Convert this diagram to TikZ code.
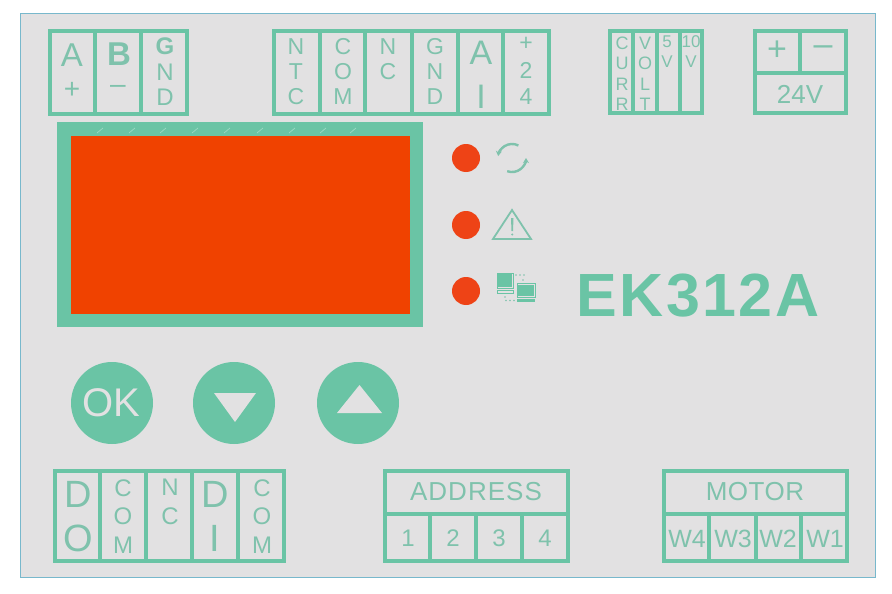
\documentclass[tikz,border=0pt]{standalone}
\usepackage{fontspec}
\setmainfont{Liberation Sans}
\usetikzlibrary{arrows.meta}
\definecolor{gr}{HTML}{6AC4A5}
\definecolor{txt}{HTML}{7FC2AC}
\definecolor{rd}{HTML}{F04200}
\definecolor{led}{HTML}{EE4316}
\definecolor{pan}{HTML}{E2E1E2}
\definecolor{edge}{HTML}{78B8CC}
\newcommand{\fs}[1]{\fontsize{#1}{#1}\selectfont}
\tikzset{
  x=1pt,y=-1pt,
  box/.style={draw=gr,line width=4pt},
  lab/.style={text=txt,inner sep=0pt,anchor=center,font=\fs{#1}},
  lab/.default=22,
  ledlamp/.style={circle,fill=led,minimum size=28pt,inner sep=0pt},
  btn/.style={circle,fill=gr,minimum size=82pt,inner sep=0pt},
  ico/.style={draw=txt,line width=1pt},
}
\newcommand{\cellstack}[6]{%
  \foreach \c [count=\i from 0] in {#6}{%
    \pgfmathsetmacro{\yy}{#3+\i*#4}%
    \node[lab=#5] (#1\i) at (#2,\yy) {\c};
  }%
}
\begin{document}
\begin{tikzpicture}
\useasboundingbox (0,0) rectangle (892,594);
\fill[white] (0,0) rectangle (892,594);
\draw[draw=edge,fill=pan,line width=1pt] (20,14) rectangle (875,577);

% terminal block A B GND
\draw[box] (50,31) rectangle (187,114);
\draw[box] (95,31) -- (95,114) (141,31) -- (141,114);
\node[lab=33] (a1) at (72,55) {A};
\node[lab=28] (a2) at (72,90) {+};
\node[lab=33] (b1) at (119,54) {\textbf{B}};
\node[lab=28] (b2) at (118,89) {–};
\node[lab=24] (g1) at (165,46) {\textbf{G}};
\cellstack{g}{165}{72}{25}{24}{N,D}

% terminal block NTC ... +24
\draw[box] (274,31) rectangle (549,114);
\draw[box] (320,31) -- (320,114) (365,31) -- (365,114) (412,31) -- (412,114) (458,31) -- (458,114) (503,31) -- (503,114);
\cellstack{ntc}{296}{47}{25}{23}{N,T,C}
\cellstack{com}{343}{47}{25}{23}{C,O,M}
\cellstack{nc}{388}{47}{25}{23}{N,C}
\cellstack{gnd}{435}{47}{25}{23}{G,N,D}
\cellstack{ai}{481}{53}{44}{34}{A,I}
\cellstack{pw}{526}{44}{26.5}{23}{+,2,4}

% CURR VOLT 5V 10V
\draw[box] (610,31) rectangle (702,113);
\draw[box] (633,31) -- (633,113) (657,31) -- (657,113) (680,31) -- (680,113);
\cellstack{curr}{622}{43}{20.5}{18}{C,U,R,R}
\cellstack{volt}{645}{43}{20.5}{18}{V,O,L,T}
\cellstack{five}{667}{42}{20}{17}{5,V}
\cellstack{ten}{691}{42}{20}{17}{10,V}

% 24V
\draw[box] (755,31) rectangle (846,113);
\draw[box] (755,73) -- (846,73) (800,31) -- (800,73);
\node[lab=34] (pl) at (777,51) {+};
\node[lab=34] (mi) at (823,51) {–};
\node[lab=26] (v24) at (800,94) {24V};

% display
\fill[gr] (57,122) rectangle (423,327);
\fill[rd] (71,136) rectangle (410,314);
\foreach \tx in {100,132,163,195,227,260,292,323,353}{\draw[gr!65!white,line width=.7pt] (\tx-3,133) -- (\tx+3,128);}

% LEDs
\node[ledlamp] (l1) at (466,158) {};
\node[ledlamp] (l2) at (466,225) {};
\node[ledlamp] (l3) at (466,291) {};

% cycle icon
\draw[ico,line width=2.4pt,-{Stealth[length=5pt,width=6pt]}] (518.4,145.5) arc (-63:-172:14);
\draw[ico,line width=2.4pt,-{Stealth[length=5pt,width=6pt]}] (507.2,171.2) arc (110:0:14);

% warning icon
\draw[ico,line width=1.8pt,line join=miter] (512,210) -- (531,239) -- (493,239) -- cycle;
\fill[txt] (511,218) -- (513.5,218) -- (513,231) -- (511.5,231) -- cycle;
\fill[txt] (512.2,234.5) circle (1.2);

% network icon
\fill[gr] (498,274) rectangle (512,287);
\draw[gr,line width=.8pt] (497,273) rectangle (513,288);
\draw[gr,line width=.8pt] (497,290) rectangle (513,293);
\fill[gr] (518,285) rectangle (534,296);
\draw[gr,line width=.8pt] (517,283.5) rectangle (535,297);
\fill[gr] (517,299) rectangle (535,302);
\foreach \px in {516,520,524}{\fill[txt] (\px,275) circle (.8);}
\fill[txt] (523,280) circle (.8);
\fill[txt] (505,297) circle (.8);
\foreach \px in {506,510,514}{\fill[txt] (\px,300.5) circle (.8);}

% model name
\node[text=gr,inner sep=0pt,font=\fs{61}\bfseries\addfontfeatures{LetterSpace=4}] (model) at (698,295.5) {EK312A};

% buttons
\node[btn] (ok) at (112,403) {};
\node[text=pan,inner sep=0pt,font=\fs{40}] (oktxt) at (111,402.5) {OK};
\node[btn] (dn) at (234,403) {};
\fill[pan] (214,393) -- (256,393) -- (235,422) -- cycle;
\node[btn] (up) at (358,403) {};
\fill[pan] (337,413) -- (382,413) -- (359.5,385) -- cycle;

% DO COM NC DI COM
\draw[box] (55,471) rectangle (284,561);
\draw[box] (100,471) -- (100,561) (146,471) -- (146,561) (192,471) -- (192,561) (238,471) -- (238,561);
\cellstack{do}{78}{494}{44}{38}{D,O}
\cellstack{cm}{123}{488}{28.5}{24}{C,O,M}
\cellstack{nn}{170}{487}{29}{24}{N,C}
\cellstack{di}{215}{494}{44}{38}{D,I}
\cellstack{cn}{262}{488}{28.5}{24}{C,O,M}

% ADDRESS
\draw[box] (385,471) rectangle (568,561);
\draw[box] (385,514) -- (568,514) (430,514) -- (430,561) (476,514) -- (476,561) (522,514) -- (522,561);
\node[lab=26,font=\fs{26}\addfontfeatures{LetterSpace=4}] (addr) at (476,492) {ADDRESS};
\node[lab=24] (n1) at (408,538) {1};
\node[lab=24] (n2) at (453,538) {2};
\node[lab=24] (n3) at (499,538) {3};
\node[lab=24] (n4) at (545,538) {4};

% MOTOR
\draw[box] (664,471) rectangle (847,561);
\draw[box] (664,514) -- (847,514) (709,514) -- (709,561) (756,514) -- (756,561) (801,514) -- (801,561);
\node[lab=26,font=\fs{26}\addfontfeatures{LetterSpace=2}] (motor) at (755,492) {MOTOR};
\node[lab=25] (w4) at (687,539) {W4};
\node[lab=25] (w3) at (733,539) {W3};
\node[lab=25] (w2) at (778,539) {W2};
\node[lab=25] (w1) at (825,539) {W1};
\end{tikzpicture}
\end{document}
